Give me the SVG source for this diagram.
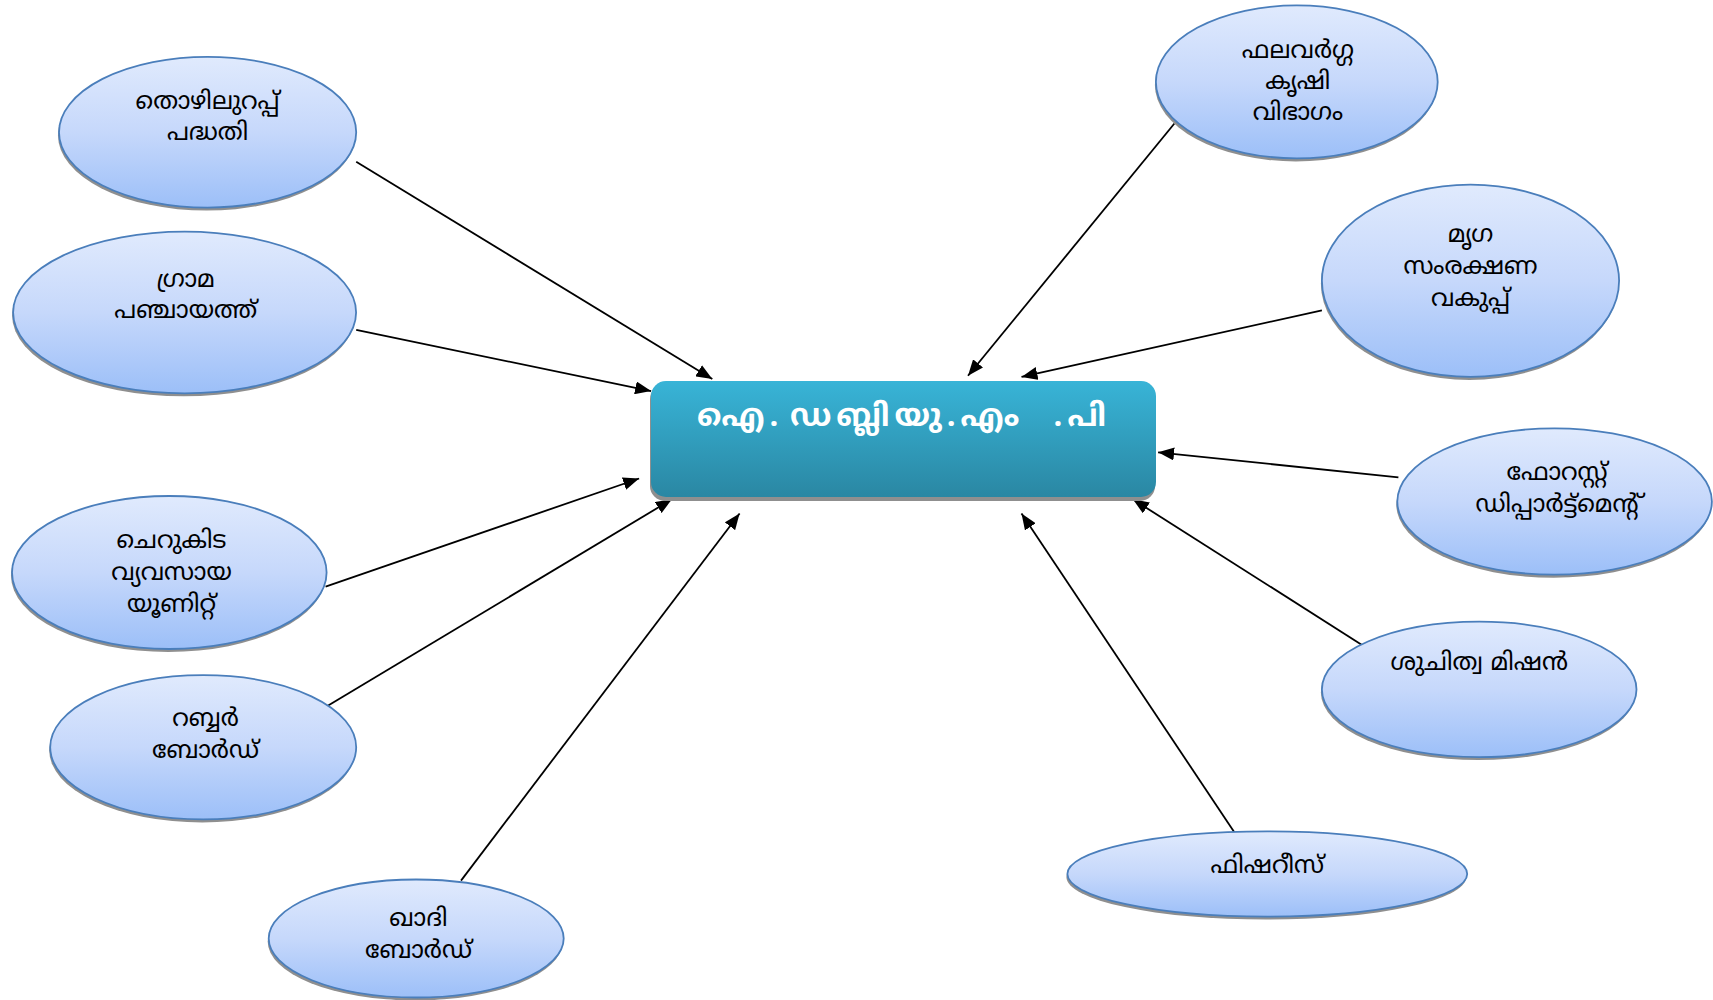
<svg xmlns="http://www.w3.org/2000/svg" width="1713" height="1000" viewBox="0 0 1713 1000">
<style>
.node ellipse.fill{fill:url(#eg);stroke:#4a7ebb;stroke-width:1.8}
.node ellipse.sh{fill:#8f8f8f}
.node text{font-family:"Noto Sans Malayalam","Noto Sans","DejaVu Sans",sans-serif;font-size:24.5px;fill:#000;text-anchor:middle}
.conn line{stroke:#000;stroke-width:1.8;marker-end:url(#ah)}
.title{font-family:"Noto Sans Malayalam","Noto Sans","DejaVu Sans",sans-serif;font-size:31px;font-weight:bold;fill:#fff;text-anchor:middle;letter-spacing:5px}
</style>
<defs>
<linearGradient id="eg" x1="0" y1="0" x2="0" y2="1">
<stop offset="0" stop-color="#e0eafd"/>
<stop offset="0.5" stop-color="#c6d8fb"/>
<stop offset="1" stop-color="#9cbff8"/>
</linearGradient>
<linearGradient id="rg" x1="0" y1="0" x2="0" y2="1">
<stop offset="0" stop-color="#38b4d7"/>
<stop offset="1" stop-color="#2a87a3"/>
</linearGradient>
<marker id="ah" viewBox="0 0 16 13" refX="16" refY="6.5" markerWidth="16" markerHeight="13" markerUnits="userSpaceOnUse" orient="auto">
<path d="M0,0 L16,6.5 L0,13 Z" fill="#000"/>
</marker>
</defs>
<rect width="1713" height="1000" fill="#fff"/>
<g id="connectors" class="conn">
<line x1="356.2" y1="161.7" x2="712.3" y2="379.1"/>
<line x1="356.2" y1="329.9" x2="651.1" y2="391.1"/>
<line x1="325.6" y1="586.7" x2="639.1" y2="478.5"/>
<line x1="327.8" y1="705.8" x2="671.9" y2="499.3"/>
<line x1="461" y1="880.6" x2="739.6" y2="513.5"/>
<line x1="1174.4" y1="123.5" x2="968" y2="375.8"/>
<line x1="1321.9" y1="310.3" x2="1021.5" y2="376.9"/>
<line x1="1398.4" y1="477.4" x2="1158.1" y2="452.3"/>
<line x1="1366.7" y1="647.9" x2="1132.9" y2="499.3"/>
<line x1="1234.5" y1="832.5" x2="1021.5" y2="513.5"/>
</g>
<g id="center">
<rect x="650" y="384" width="505" height="117" rx="15" fill="#8f8f8f"/>
<rect x="651" y="381" width="505" height="116" rx="15" fill="url(#rg)"/>
<text class="title" x="904" y="426">ഐ.<tspan dx="-8"> ഡബ്ലിയു.എം&#160; .പി</tspan></text>
</g>
<g id="n1" class="node">
<ellipse class="sh" cx="206.6" cy="135.2" rx="148.6" ry="75.4"/>
<ellipse class="fill" cx="207.6" cy="132.2" rx="148.6" ry="75.4"/>
<text x="207.6" y="109">തൊഴിലുറപ്പ്</text>
<text x="207.6" y="140">പദ്ധതി</text>
</g>
<g id="n2" class="node">
<ellipse class="sh" cx="183.6" cy="315.5" rx="171.5" ry="80.8"/>
<ellipse class="fill" cx="184.6" cy="312.5" rx="171.5" ry="80.8"/>
<text x="185.7" y="287">ഗ്രാമ</text>
<text x="185.7" y="318">പഞ്ചായത്ത്</text>
</g>
<g id="n3" class="node">
<ellipse class="sh" cx="168.3" cy="575.5" rx="157.3" ry="76.5"/>
<ellipse class="fill" cx="169.3" cy="572.5" rx="157.3" ry="76.5"/>
<text x="171.5" y="548">ചെറുകിട</text>
<text x="171.5" y="580">വ്യവസായ</text>
<text x="171.5" y="612">യൂണിറ്റ്</text>
</g>
<g id="n4" class="node">
<ellipse class="sh" cx="202.2" cy="750.3" rx="153" ry="72.1"/>
<ellipse class="fill" cx="203.2" cy="747.3" rx="153" ry="72.1"/>
<text x="205.4" y="726">റബ്ബർ</text>
<text x="205.4" y="758">ബോർഡ്</text>
</g>
<g id="n5" class="node">
<ellipse class="sh" cx="415.2" cy="941.5" rx="147.5" ry="59"/>
<ellipse class="fill" cx="416.2" cy="938.5" rx="147.5" ry="59"/>
<text x="418.4" y="926">ഖാദി</text>
<text x="418.4" y="958">ബോർഡ്</text>
</g>
<g id="n6" class="node">
<ellipse class="sh" cx="1295.8" cy="84.9" rx="140.9" ry="76.5"/>
<ellipse class="fill" cx="1296.8" cy="81.9" rx="140.9" ry="76.5"/>
<text x="1297.9" y="57.5">ഫലവർഗ്ഗ</text>
<text x="1297.9" y="89">കൃഷി</text>
<text x="1297.9" y="120">വിഭാഗം</text>
</g>
<g id="n7" class="node">
<ellipse class="sh" cx="1469.5" cy="283.8" rx="148.6" ry="96.1"/>
<ellipse class="fill" cx="1470.5" cy="280.8" rx="148.6" ry="96.1"/>
<text x="1470.5" y="242">മൃഗ</text>
<text x="1470.5" y="274">സംരക്ഷണ</text>
<text x="1470.5" y="306">വകുപ്പ്</text>
</g>
<g id="n8" class="node">
<ellipse class="sh" cx="1553.6" cy="504.5" rx="157.3" ry="73.2"/>
<ellipse class="fill" cx="1554.6" cy="501.5" rx="157.3" ry="73.2"/>
<text x="1557" y="480">ഫോറസ്റ്റ്</text>
<text x="1557" y="512">ഡിപ്പാർട്ട്മെന്റ്</text>
</g>
<g id="n9" class="node">
<ellipse class="sh" cx="1478.2" cy="692.4" rx="157.3" ry="67.7"/>
<ellipse class="fill" cx="1479.2" cy="689.4" rx="157.3" ry="67.7"/>
<text x="1479.2" y="669.5">ശുചിത്വ മിഷൻ</text>
</g>
<g id="n10" class="node">
<ellipse class="sh" cx="1266.3" cy="877" rx="199.9" ry="42.6"/>
<ellipse class="fill" cx="1267.3" cy="874" rx="199.9" ry="42.6"/>
<text x="1267.3" y="872.5">ഫിഷറീസ്</text>
</g>
</svg>
